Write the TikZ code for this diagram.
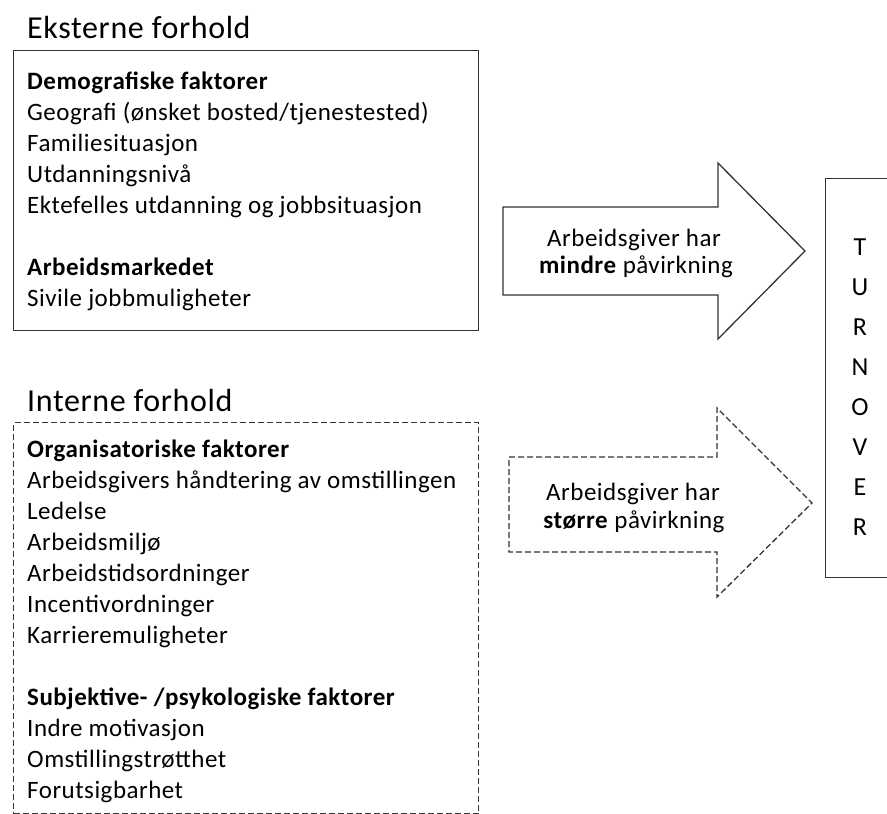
\documentclass[tikz,border=0pt]{standalone}
\usepackage{fontspec}
\setmainfont{Carlito}[LetterSpace=2.0]
\begin{document}
\begin{tikzpicture}[x=1pt,y=-1pt,
  body/.style={anchor=base west, inner sep=0, font=\fontsize{25}{30}\selectfont},
  hd/.style={anchor=base west, inner sep=0, font=\fontsize{25}{30}\selectfont\bfseries},
  ttl/.style={anchor=base west, inner sep=0, font=\fontsize{32}{38}\selectfont},
  arrtxt/.style={anchor=base, inner sep=0, font=\fontsize{25}{30}\selectfont},
  letter/.style={anchor=base, inner sep=0, font=\fontsize{26}{30}\selectfont},
  solidline/.style={draw=black!80, line width=1.3pt},
  dashline/.style={draw=black!80, line width=1.3pt, dash pattern=on 6pt off 3pt},
]
\useasboundingbox (0,0) rectangle (887,814);
\clip (0,0) rectangle (887,814);
\fill[white] (0,0) rectangle (887,814);

% Eksterne forhold
\node[ttl] (t1) at (27,38) {Eksterne forhold};
\node[solidline, anchor=north west, inner sep=0, minimum width=465pt, minimum height=280pt] (ext) at (13,50) {};
\node[hd]   (e1) at (27,89)  {Demografiske faktorer};
\node[body] (e2) at (27,120) {Geografi (ønsket bosted/tjenestested)};
\node[body] (e3) at (27,151) {Familiesituasjon};
\node[body] (e4) at (27,182) {Utdanningsnivå};
\node[body] (e5) at (27,213) {Ektefelles utdanning og jobbsituasjon};
\node[hd]   (e6) at (27,275) {Arbeidsmarkedet};
\node[body] (e7) at (27,306) {Sivile jobbmuligheter};

% Interne forhold
\node[ttl] (t2) at (27,411) {Interne forhold};
\node[dashline, anchor=north west, inner sep=0, minimum width=465pt, minimum height=391pt] (int) at (13,422) {};
\node[hd]   (i1)  at (27,457) {Organisatoriske faktorer};
\node[body] (i2)  at (27,488) {Arbeidsgivers håndtering av omstillingen};
\node[body] (i3)  at (27,519) {Ledelse};
\node[body] (i4)  at (27,550) {Arbeidsmiljø};
\node[body] (i5)  at (27,581) {Arbeidstidsordninger};
\node[body] (i6)  at (27,612) {Incentivordninger};
\node[body] (i7)  at (27,643) {Karrieremuligheter};
\node[hd]   (i8)  at (27,705) {Subjektive- /psykologiske faktorer};
\node[body] (i9)  at (27,736) {Indre motivasjon};
\node[body] (i10) at (27,767) {Omstillingstrøtthet};
\node[body] (i11) at (27,798) {Forutsigbarhet};

% Arrows
\draw[solidline, fill=white] (503,207) -- (718,207) -- (718,163) -- (805,251) -- (718,339) -- (718,295) -- (503,295) -- cycle;
\node[arrtxt] (a1) at (634,246) {Arbeidsgiver har};
\node[arrtxt] (a2) at (636,273) {\textbf{mindre} påvirkning};

\draw[dashline, fill=white] (509,457) -- (717,457) -- (717,408) -- (812,503) -- (717,597) -- (717,552) -- (509,552) -- cycle;
\node[arrtxt] (b1) at (633,500) {Arbeidsgiver har};
\node[arrtxt] (b2) at (634,528) {\textbf{større} påvirkning};

% Turnover
\node[solidline, anchor=north west, inner sep=0, minimum width=80pt, minimum height=399pt] (turn) at (825,178) {};
\foreach \l/\yy [count=\k] in {T/255,U/295,R/335,N/375,O/415,V/455,E/495,R/535}
  \node[letter] (L\k) at (860,\yy) {\l};
\end{tikzpicture}
\end{document}
